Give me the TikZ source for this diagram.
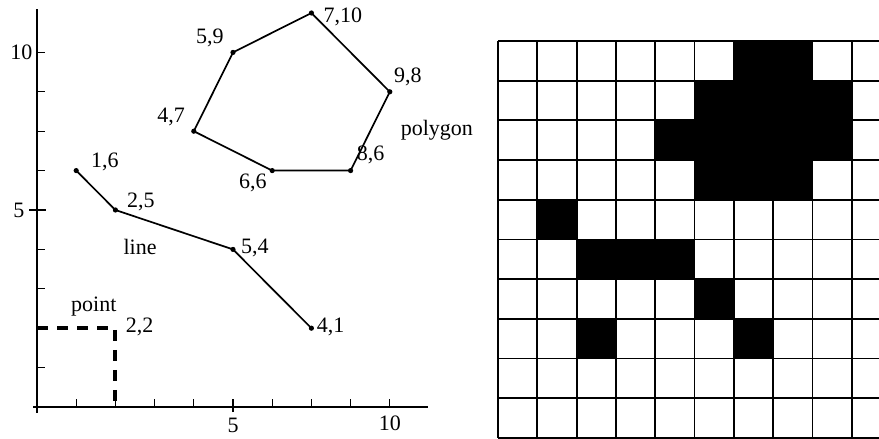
\documentclass[tikz,border=0pt]{standalone}
\usepackage{fontspec}
\setmainfont{Liberation Serif}
\usetikzlibrary{positioning}

\tikzset{
  axisline/.style={line width=0.7pt},
  tickmark/.style={line width=0.6pt},
  shapeline/.style={line width=0.85pt, line join=round},
  lbl/.style={inner sep=1pt, font=\fontsize{11}{13}\selectfont},
  pointdash/.style={line width=2pt, dash pattern=on 5.5pt off 4.5pt},
  gridline/.style={line width=0.9pt},
}

\begin{document}
\begin{tikzpicture}
  \useasboundingbox (0,0) rectangle (439.5pt,219.5pt);

  % vector side
  \begin{scope}[shift={(18.5pt,16pt)}, x=19.6pt, y=19.7pt]
    \draw[axisline] (-0.1,0) -- (9.97,0);
    \draw[axisline] (0,-0.15) -- (0,10.1);
    \foreach \i in {1,...,9} {
      \draw[tickmark] (\i,0) -- (\i,0.2);
      \draw[tickmark] (0,\i) -- (0.2,\i);
    }
    \draw[tickmark] (5,-0.13) -- (5,0.2);
    \draw[tickmark] (-0.2,5) -- (0.22,5);
    \node[lbl] (xfive) at (5,-0.46) {5};
    \node[lbl] (xten) at (9,-0.41) {10};
    \node[lbl] (yfive) at (-0.46,5) {5};
    \node[lbl] (yten) at (-0.40,9) {10};

    % polygon
    \coordinate (pa) at (7,10);
    \coordinate (pb) at (9,8);
    \coordinate (pc) at (8,6);
    \coordinate (pd) at (6,6);
    \coordinate (pe) at (4,7);
    \coordinate (pf) at (5,9);
    \draw[shapeline] (pa) -- (pb) -- (pc) -- (pd) -- (pe) -- (pf) -- cycle;
    \foreach \p in {pa,pb,pc,pd,pe,pf} \fill (\p) circle (1.3pt);
    \node[lbl] (lpa) at (7.80,9.90) {7,10};
    \node[lbl] (lpb) at (9.46,8.38) {9,8};
    \node[lbl] (lpc) at (8.51,6.40) {8,6};
    \node[lbl] (lpd) at (5.51,5.69) {6,6};
    \node[lbl] (lpe) at (3.42,7.36) {4,7};
    \node[lbl] (lpf) at (4.41,9.37) {5,9};
    \node[lbl] (polylbl) at (10.20,7.03) {polygon};

    % line
    \coordinate (la) at (1,6);
    \coordinate (lb) at (2,5);
    \coordinate (lc) at (5,4);
    \coordinate (ld) at (7,2);
    \draw[shapeline] (la) -- (lb) -- (lc) -- (ld);
    \foreach \p in {la,lb,lc,ld} \fill (\p) circle (1.3pt);
    \node[lbl] (lla) at (1.73,6.22) {1,6};
    \node[lbl] (llb) at (2.65,5.20) {2,5};
    \node[lbl] (llc) at (5.56,4.04) {5,4};
    \node[lbl] (lld) at (7.49,2.03) {4,1};
    \node[lbl] (linelbl) at (2.63,4.06) {line};

    % point
    \coordinate (ptx) at (0,2);
    \coordinate (pt) at (2,2);
    \coordinate (pty) at (2,0);
    \draw[pointdash] (ptx) -- (pt) -- (pty);
    \node[lbl] (lpt) at (2.62,2.03) {2,2};
    \node[lbl] (pointlbl) at (1.45,2.56) {point};
  \end{scope}

  % raster side
  \begin{scope}[shift={(249pt,0.5pt)}, x=19.65pt, y=19.85pt]
    \clip (-0.1,-0.1) rectangle (9.69,10.1);
    \foreach \c/\r in {7/1,8/1,6/2,7/2,8/2,9/2,5/3,6/3,7/3,8/3,9/3,
                       6/4,7/4,8/4,2/5,3/6,4/6,5/6,6/7,3/8,7/8}
      \fill (\c-1,10-\r) rectangle ++(1,1);
    \foreach \i in {0,...,10} {
      \draw[gridline] (\i,0) -- (\i,10);
      \draw[gridline] (0,\i) -- (10,\i);
    }
  \end{scope}
\end{tikzpicture}
\end{document}
